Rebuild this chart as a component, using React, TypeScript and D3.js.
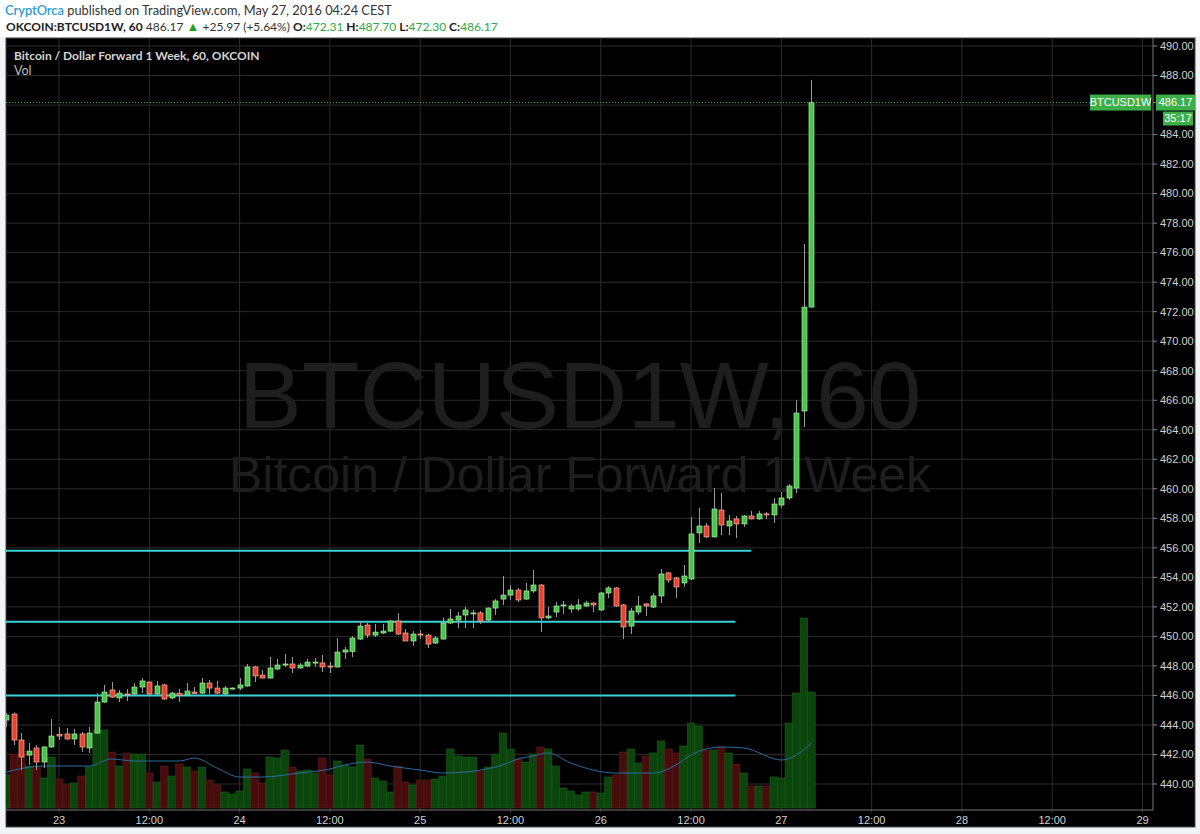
import React from "react";
import * as d3 from "d3";

// ---------- data ----------
const firstCandleUtc = Date.UTC(2016, 4, 22, 17); // hourly candles from 22 May 17:00
const opens = [
  444.33, 444.74, 442.98, 441.96, 442.44, 441.49, 442.51,
  443.35, 443.39, 443.05, 443.39, 442.44, 443.45, 445.55, 446.37, 445.83, 446.10, 446.10, 446.57,
  446.91, 446.10, 446.71, 445.83, 446.13, 446.03, 446.23, 446.16, 446.84, 446.50, 446.10, 446.44,
  446.50, 446.64, 447.93, 447.38, 447.18, 447.79, 448.06, 448.13, 447.86, 447.99, 448.20, 448.20,
  447.99, 447.93, 448.94, 448.98, 449.82, 450.77, 450.09, 450.23, 450.36, 451.04, 450.23, 449.69,
  450.16, 450.09, 449.55, 449.82, 450.91, 451.11, 451.45, 451.52, 451.59, 451.11, 451.92, 452.53,
  452.80, 453.14, 452.53, 453.08, 453.48, 451.25, 451.65, 452.06, 451.86, 451.86, 452.06, 452.26,
  451.79, 452.94, 453.28, 452.13, 450.70, 451.65, 452.20, 451.99, 452.74, 454.30, 453.96, 453.62,
  453.89, 457.01, 457.48, 456.74, 458.56, 457.48, 457.96, 457.62, 458.16, 457.96, 458.30, 458.23,
  458.90, 459.38, 460.05, 465.27, 472.31,
];
const highs = [
  444.81, 444.85, 443.45, 442.78, 442.64, 442.55, 444.40,
  443.86, 443.79, 443.72, 443.52, 443.86, 446.16, 446.71, 446.91, 446.37, 446.44, 446.84, 447.18,
  446.95, 446.98, 446.78, 446.23, 446.44, 446.84, 446.57, 447.18, 447.05, 446.98, 446.64, 446.55,
  447.18, 448.13, 448.00, 447.72, 448.60, 448.47, 448.81, 448.60, 448.20, 448.47, 448.54, 448.74,
  448.26, 449.89, 449.28, 450.02, 451.04, 450.91, 450.84, 450.84, 451.11, 451.58, 450.50, 450.36,
  450.43, 450.16, 450.02, 451.25, 451.86, 451.65, 452.00, 451.79, 451.72, 451.96, 452.53, 454.09,
  453.48, 453.28, 453.62, 454.50, 453.55, 452.00, 452.33, 452.40, 452.20, 452.53, 452.40, 452.30,
  453.01, 453.41, 453.35, 452.20, 451.92, 452.74, 452.26, 452.94, 454.57, 454.37, 454.03, 454.84,
  458.09, 458.70, 457.69, 460.05, 459.71, 458.23, 458.16, 458.23, 458.50, 458.50, 458.43, 459.38,
  459.78, 460.33, 466.01, 476.59, 487.70,
];
const lows = [
  443.86, 442.64, 440.95, 441.29, 440.95, 441.08, 442.44,
  442.98, 443.00, 442.64, 442.17, 442.10, 443.40, 445.50, 445.83, 445.55, 445.62, 446.03, 446.16,
  446.03, 446.03, 445.70, 445.76, 445.55, 445.96, 446.10, 446.10, 446.10, 446.10, 446.03, 446.40,
  446.37, 446.60, 446.91, 447.15, 447.15, 447.72, 447.93, 447.52, 447.82, 447.93, 447.93, 447.59,
  447.52, 447.90, 448.47, 448.60, 449.76, 449.89, 449.96, 450.16, 450.29, 450.10, 449.69, 449.35,
  449.82, 449.21, 449.48, 449.80, 450.84, 450.57, 450.57, 450.57, 450.84, 451.04, 451.45, 452.13,
  452.47, 452.33, 452.47, 452.94, 450.30, 451.18, 451.31, 451.52, 451.59, 451.72, 452.00, 451.65,
  451.72, 452.60, 452.00, 449.82, 450.16, 451.45, 451.38, 451.92, 452.26, 453.62, 452.60, 453.35,
  453.82, 456.33, 456.67, 456.70, 456.87, 456.87, 456.67, 457.42, 457.93, 457.89, 457.96, 457.69,
  458.70, 459.24, 459.71, 464.19, 472.30,
];
const closes = [
  444.67, 442.98, 441.83, 442.23, 441.49, 442.51, 443.25,
  443.25, 443.05, 443.39, 442.51, 443.45, 445.55, 446.23, 445.89, 446.16, 446.03, 446.57, 446.98,
  446.10, 446.64, 445.76, 446.16, 445.99, 446.30, 446.13, 446.84, 446.50, 446.16, 446.50, 446.50,
  446.71, 447.93, 447.32, 447.18, 447.86, 448.06, 448.13, 447.86, 448.06, 448.26, 448.26, 447.93,
  447.93, 448.94, 449.08, 449.89, 450.70, 450.09, 450.29, 450.36, 451.04, 450.16, 449.69, 450.16,
  450.10, 449.48, 449.89, 450.91, 451.18, 451.38, 451.79, 451.59, 451.04, 451.92, 452.40, 452.80,
  453.14, 452.47, 453.08, 453.48, 451.25, 451.38, 452.06, 452.13, 452.06, 452.13, 452.26, 452.13,
  452.94, 453.28, 452.06, 450.64, 451.72, 452.06, 452.06, 452.74, 454.23, 453.82, 453.35, 454.09,
  456.94, 457.48, 456.74, 458.63, 457.55, 457.82, 457.62, 458.16, 457.96, 458.30, 458.23, 458.97,
  459.38, 460.19, 465.13, 472.31, 486.17,
];
const volumes = [
  330, 540, 540, 420, 410, 300, 510,
  290, 230, 250, 320, 410, 780, 780, 560, 420, 550, 540, 540,
  350, 260, 420, 320, 440, 410, 370, 410, 280, 230, 160, 140,
  170, 390, 350, 250, 510, 500, 580, 410, 370, 380, 350, 500,
  330, 470, 430, 410, 630, 490, 300, 270, 160, 420, 260, 230,
  280, 280, 290, 320, 590, 520, 510, 510, 370, 410, 540, 750,
  590, 490, 460, 540, 610, 590, 420, 200, 170, 130, 160, 160,
  150, 310, 330, 560, 590, 450, 520, 550, 670, 590, 550, 620,
  850, 820, 580, 580, 610, 550, 440, 350, 220, 220, 220, 310,
  300, 850, 1150, 1900, 1160,
];
// volume moving average, read at hours after 23 May 00:00
const volMaHours = [-7, -2, 4, 7, 10, 16, 18, 21, 24, 27, 32, 36, 38, 41, 44, 48, 51, 54, 56, 59, 61, 63, 65, 68, 74, 79, 82, 84, 88, 91, 96, 98, 100];
const volMaValues = [360, 420, 420, 490, 470, 470, 500, 400, 310, 310, 350, 390, 430, 460, 420, 380, 350, 360, 380, 430, 490, 520, 550, 450, 350, 350, 430, 530, 610, 600, 480, 530, 650];

const priceTicks = [440, 442, 444, 446, 448, 450, 452, 454, 456, 458, 460, 462, 464, 466, 468, 470, 472, 474, 476, 478, 480, 482, 484, 486, 488, 490];
const timeTickHours = [0, 12, 24, 36, 48, 60, 72, 84, 96, 108, 120, 132, 144];
const timeTickLabels = ["23", "12:00", "24", "12:00", "25", "12:00", "26", "12:00", "27", "12:00", "28", "12:00", "29"];

const levelPrices = [446.0, 451.0, 455.8];
const levelEndHours = [89.9, 89.9, 92.0];

const symbolName = "BTCUSD1W";
const countdown = "35:17";
const changeText = "+25.97 (+5.64%)";
const ohlcLabels = ["O:", "H:", "L:", "C:"];

// ---------- layout ----------
const W = 1200;
const H = 834;
const frame = { left: 6, top: 38, right: 1195, bottom: 827 };
const plot = { left: 6, top: 38, right: 1153, bottom: 810 };
const day0 = Date.UTC(2016, 4, 23);
const HOUR = 3600 * 1000;

const GREEN = "#4cc34c";
const GREEN_EDGE = "#a8eba0";
const RED = "#e8432e";
const RED_EDGE = "#f5b0a0";
const WICK = "#9a9a9a";
const AXIS_TXT = "#d2d2d2";
const GRID = "#2c2c2c";
const LABEL_GREEN = "#3daf48";
const HEADER_FONT = "Lato, 'Open Sans', sans-serif";
const VAL_GREEN = "#2ea84a";

export default function App() {
  const x = d3.scaleUtc().domain([new Date(day0), new Date(day0 + 144 * HOUR)]).range([59, 1142.5]);
  const y = d3.scaleLinear().domain([440, 490]).range([784, 46]);
  const vy = d3.scaleLinear().domain([0, 1900]).range([808, 618]);

  const candles = opens.map((o, i) => ({
    t: new Date(firstCandleUtc + i * HOUR),
    o,
    h: highs[i],
    l: lows[i],
    c: closes[i],
    v: volumes[i],
  }));
  const hourW = x(new Date(day0 + HOUR)) - x(new Date(day0));
  const bodyW = 5;

  const maLine = d3
    .line<number>()
    .x((_, i) => x(new Date(day0 + volMaHours[i] * HOUR)))
    .y((v) => vy(v))
    .curve(d3.curveMonotoneX)(volMaValues);

  const last = candles[candles.length - 1];
  const lastY = y(last.c);
  const visibleTicks = priceTicks.filter((p) => Math.abs(y(p) - lastY) > 11);
  const ohlcValues = [last.o, last.h, last.l, last.c];

  return (
    <svg width={W} height={H} style={{ position: "absolute", left: 0, top: 0 }} fontFamily="'Liberation Sans', Arial, sans-serif">
      <defs>
        <clipPath id="plotClip">
          <rect x={plot.left} y={plot.top} width={plot.right - plot.left} height={plot.bottom - plot.top} />
        </clipPath>
      </defs>
      <rect x={0} y={0} width={W} height={H} fill="#f1f4f7" />
      <rect x={0} y={0} width={W} height={frame.top - 1} fill="#ffffff" />

      {/* header */}
      <text x={5} y={15} fontFamily={HEADER_FONT} fontSize={12.8} fill="#333">
        <tspan fill="#2b9bd3" fontWeight={600}>CryptOrca</tspan>
        <tspan> published on TradingView.com, May 27, 2016 04:24 CEST</tspan>
      </text>
      <text x={6} y={31} fontFamily={HEADER_FONT} fontSize={12} fill="#333">
        <tspan fontWeight={700} fill="#222">OKCOIN:BTCUSD1W, 60</tspan>
        <tspan> {last.c.toFixed(2)} </tspan>
        <tspan fill="#1fa31f" fontSize={13}>▲</tspan>
        <tspan> {changeText} </tspan>
        {ohlcValues.map((v, i) => (
          <React.Fragment key={"ohlc" + i}>
            <tspan fontWeight={700} fill="#222">{(i > 0 ? " " : "") + ohlcLabels[i]}</tspan>
            <tspan fill={VAL_GREEN}>{v.toFixed(2)}</tspan>
          </React.Fragment>
        ))}
      </text>

      {/* chart background */}
      <rect x={frame.left} y={frame.top} width={frame.right - frame.left} height={frame.bottom - frame.top} fill="#000" stroke="#4a4a4a" strokeWidth={1} />

      {/* grid */}
      {priceTicks.map((p) => (
        <line key={"hg" + p} x1={plot.left} x2={plot.right} y1={y(p)} y2={y(p)} stroke={GRID} strokeWidth={1} />
      ))}
      {timeTickHours.map((hh) => {
        const xx = x(new Date(day0 + hh * HOUR));
        return <line key={"vg" + hh} x1={xx} x2={xx} y1={plot.top} y2={plot.bottom + 3} stroke={GRID} strokeWidth={1} />;
      })}

      {/* watermark */}
      <text x={580} y={428} textAnchor="middle" fontSize={94.5} fill="#1e1e1e">
        BTCUSD1W, 60
      </text>
      <text x={580} y={492} textAnchor="middle" fontSize={50} fill="#1e1e1e">
        Bitcoin / Dollar Forward 1 Week
      </text>

      <g clipPath="url(#plotClip)">
        {/* volume */}
        {candles.map((d, i) => {
          const up = d.c >= d.o;
          const xc = x(d.t);
          return (
            <rect
              key={"v" + i}
              x={xc - hourW / 2}
              width={hourW}
              y={vy(d.v)}
              height={vy(0) - vy(d.v)}
              fill={up ? "#0b450b" : "#470d0d"}
              stroke={up ? "#1c5e1c" : "#5e1d1d"}
              strokeWidth={0.6}
            />
          );
        })}
        <path d={maLine ?? ""} fill="none" stroke="#2a6d9e" strokeWidth={1} />

        {/* support / resistance levels */}
        {levelPrices.map((p, i) => (
          <line
            key={"lvl" + i}
            x1={plot.left}
            x2={x(new Date(day0 + levelEndHours[i] * HOUR))}
            y1={y(p)}
            y2={y(p)}
            stroke="#39d0d8"
            strokeWidth={2}
          />
        ))}

        {/* candles */}
        {candles.map((d, i) => {
          const up = d.c >= d.o;
          const xc = Math.round(x(d.t)) + 0.5;
          const top = y(Math.max(d.o, d.c));
          const bot = y(Math.min(d.o, d.c));
          return (
            <g key={"c" + i}>
              <line x1={xc} x2={xc} y1={y(d.h)} y2={y(d.l)} stroke={WICK} strokeWidth={1} />
              <rect
                x={xc - bodyW / 2}
                width={bodyW}
                y={top}
                height={Math.max(1, bot - top)}
                fill={up ? GREEN : RED}
                stroke={up ? GREEN_EDGE : RED_EDGE}
                strokeWidth={0.7}
              />
            </g>
          );
        })}

        {/* last price line */}
        <line x1={plot.left} x2={1090} y1={lastY} y2={lastY} stroke={LABEL_GREEN} strokeWidth={1} strokeDasharray="1,2" />
      </g>

      {/* axes */}
      <line x1={plot.right} x2={plot.right} y1={plot.top} y2={plot.bottom} stroke="#777" strokeWidth={1} />
      <line x1={plot.left} x2={plot.right} y1={plot.bottom} y2={plot.bottom} stroke="#777" strokeWidth={1} />
      {visibleTicks.map((p) => (
        <g key={"pt" + p}>
          <line x1={plot.right} x2={plot.right + 4} y1={y(p)} y2={y(p)} stroke="#888" />
          <text x={plot.right + 7} y={y(p)} dy="0.35em" fontSize={11} fill={AXIS_TXT}>
            {p.toFixed(2)}
          </text>
        </g>
      ))}
      {timeTickHours.map((hh, i) => {
        const xx = x(new Date(day0 + hh * HOUR));
        return (
          <text key={"tt" + hh} x={xx} y={824} textAnchor="middle" fontSize={11} fill={AXIS_TXT}>
            {timeTickLabels[i]}
          </text>
        );
      })}

      {/* last price labels */}
      <rect x={1090} y={lastY - 8} width={61} height={16} fill={LABEL_GREEN} />
      <text x={1120.5} y={lastY} dy="0.35em" textAnchor="middle" fontSize={11} fill="#fff">
        {symbolName}
      </text>
      <line x1={plot.right} x2={plot.right + 4} y1={lastY} y2={lastY} stroke="#888" />
      <rect x={1156} y={lastY - 8} width={39} height={16} fill={LABEL_GREEN} />
      <text x={1175.5} y={lastY} dy="0.35em" textAnchor="middle" fontSize={11} fill="#fff">
        {last.c.toFixed(2)}
      </text>
      <rect x={1163} y={lastY + 9} width={30} height={14} fill={LABEL_GREEN} />
      <text x={1178} y={lastY + 16} dy="0.35em" textAnchor="middle" fontSize={11} fill="#fff">
        {countdown}
      </text>

      {/* series title */}
      <text x={14} y={60} fontFamily={HEADER_FONT} fontSize={12} fontWeight={700} fill="#d4d4d4">
        Bitcoin / Dollar Forward 1 Week, 60, OKCOIN
      </text>
      <text x={14} y={75} fontFamily={HEADER_FONT} fontSize={12.5} fill="#bdbdbd">
        Vol
      </text>
    </svg>
  );
}
